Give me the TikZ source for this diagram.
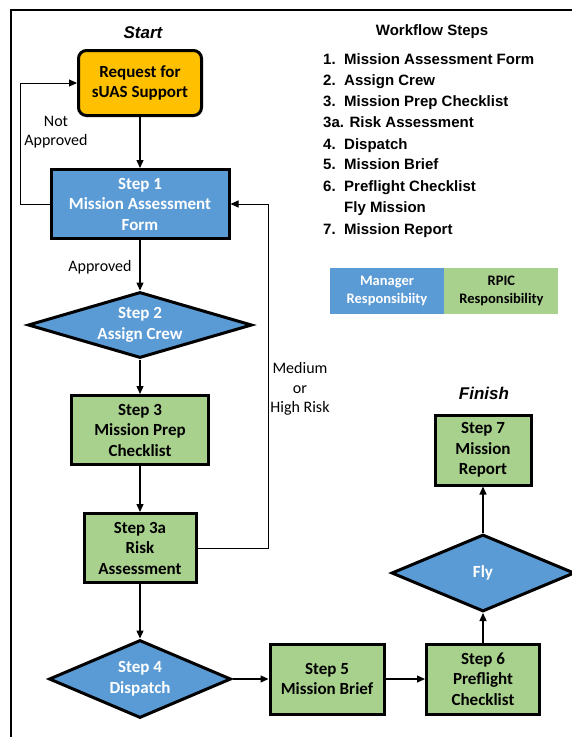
\documentclass[tikz,border=0pt]{standalone}
\usepackage{fontspec}
\setmainfont{Carlito}
\newfontfamily\arialfont{Liberation Sans}
\usepackage{tikz}
\usetikzlibrary{arrows.meta,positioning,shapes.geometric}
\definecolor{reqYellow}{HTML}{FFC000}
\definecolor{mgrBlue}{HTML}{5B9BD5}
\definecolor{rpicGreen}{HTML}{A9D18E}
\tikzset{
  stepbox/.style={draw=black, line width=3pt, fill=rpicGreen, inner sep=0pt, align=center,
                  font=\bfseries\fontsize{17}{20.5}\selectfont},
  mgrbox/.style={stepbox, fill=mgrBlue, text=white},
  reqbox/.style={stepbox, fill=reqYellow, rounded corners=8pt},
  decision/.style={diamond, draw=black, line width=3pt, fill=mgrBlue, text=white, inner sep=0pt,
                   align=center, font=\bfseries\fontsize{17}{20.5}\selectfont},
  flow/.style={-{Triangle[length=8pt,width=7pt]}, line width=1.3pt},
  loopline/.style={flow, line width=1pt},
  note/.style={align=center, font=\fontsize{16}{19.5}\selectfont},
  heading/.style={font=\arialfont\bfseries\itshape\fontsize{17}{20}\selectfont},
  listitem/.style={anchor=base west, inner sep=0pt, font=\arialfont\bfseries\fontsize{15}{18}\selectfont},
  legendbox/.style={minimum width=114pt, minimum height=46pt, inner sep=0pt, align=center,
                    font=\bfseries\fontsize{14.5}{17.7}\selectfont}
}

\begin{document}
\begin{tikzpicture}[x=1pt,y=-1pt]
  \useasboundingbox (0,0) rectangle (571,737);
  % outer frame
  \draw[line width=2pt] (11,745) -- (11,10) -- (580,10);

  % flow chart
  \node[heading] (start) at (143,33) {Start};
  \node[reqbox, minimum width=123pt, minimum height=65pt] (req) at (140,83) {Request for\\sUAS Support};
  \node[mgrbox, minimum width=178pt, minimum height=69pt] (s1) at (140,204) {Step 1\\Mission Assessment\\Form};
  \node[decision, aspect=3.3, minimum width=224pt, minimum height=66pt] (s2) at (140,325) {Step 2\\Assign Crew};
  \node[stepbox, minimum width=137pt, minimum height=69pt] (s3) at (140,430) {Step 3\\Mission Prep\\Checklist};
  \node[stepbox, minimum width=112pt, minimum height=69pt] (s3a) at (140,548) {Step 3a\\Risk\\Assessment};
  \node[decision, aspect=2.3, minimum width=182pt, minimum height=78pt] (s4) at (140,679) {Step 4\\Dispatch};
  \node[stepbox, minimum width=114pt, minimum height=70pt] (s5) at (327,679) {Step 5\\Mission Brief};
  \node[stepbox, minimum width=113pt, minimum height=70pt] (s6) at (483,679) {Step 6\\Preflight\\Checklist};
  \node[decision, aspect=2.3, minimum width=183pt, minimum height=77pt] (fly) at (483,573) {Fly};
  \node[stepbox, minimum width=96pt, minimum height=70pt] (s7) at (483,450) {Step 7\\Mission\\Report};
  \node[heading] (finish) at (484,393) {Finish};

  \draw[flow] (req) -- (s1);
  \draw[flow] (s1) -- (s2);
  \draw[flow] (s2) -- (s3);
  \draw[flow] (s3) -- (s3a);
  \draw[flow] (s3a) -- (s4);
  \draw[flow] (s4) -- (s5);
  \draw[flow] (s5) -- (s6);
  \draw[flow] (s6) -- (fly);
  \draw[flow] (fly) -- (s7);

  % loops back
  \coordinate (notx) at (20,0);
  \coordinate (riskx) at (268,0);
  \draw[loopline] (s1.west) -- (s1.west -| notx) |- (req.west);
  \draw[loopline] (s3a.east) -- (s3a.east -| riskx) |- (s1.east);

  \node[note] (notappr) at (56,132) {Not\\Approved};
  \node[note] (appr) at (100,267) {Approved};
  \node[note] (risklbl) at (300,389) {Medium\\or\\High Risk};

  % workflow list
  \node[font=\arialfont\bfseries\fontsize{15}{18}\selectfont] (wfhead) at (432,32) {Workflow Steps};
  \foreach \y/\n/\t [count=\i] in {59/1./Mission Assessment Form, 80/2./Assign Crew,
      101/3./Mission Prep Checklist, 144/4./Dispatch, 164/5./Mission Brief,
      186/6./Preflight Checklist, 207//Fly Mission, 229/7./Mission Report}{
    \node[listitem] (num\i) at (323,\y+5.5) {\n};
    \node[listitem] (item\i) at (344,\y+5.5) {\t};
  }
  \node[listitem] (item3a) at (323,127.5) {3a. Risk Assessment};

  % legend
  \node[legendbox, fill=mgrBlue, text=white] (lgmgr) at (387,291) {Manager\\Responsibiity};
  \node[legendbox, fill=rpicGreen, right=0pt of lgmgr] (lgrpic) {RPIC\\Responsibility};
\end{tikzpicture}
\end{document}
